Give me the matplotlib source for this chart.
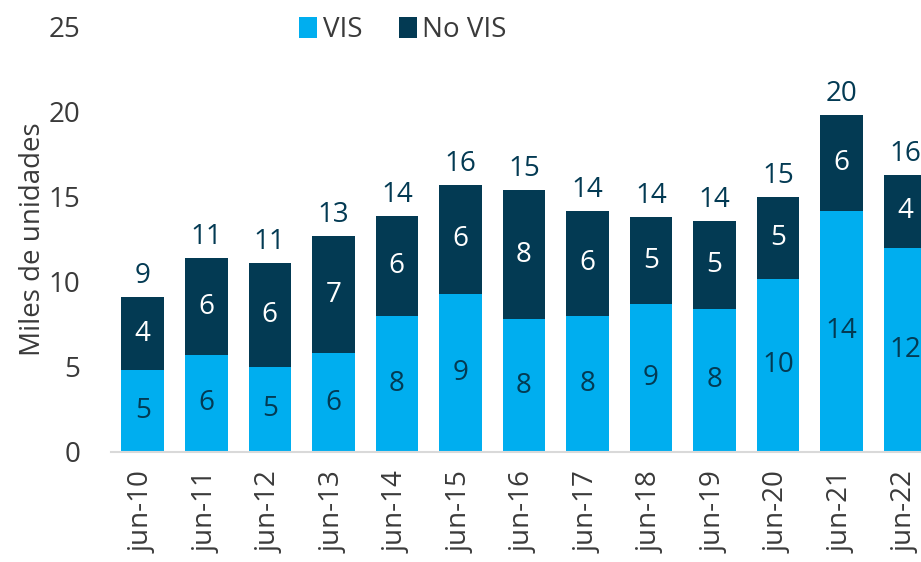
import numpy as np
import matplotlib
matplotlib.use("Agg")
import matplotlib.pyplot as plt

# Data (miles de unidades)
labels = ['jun-10', 'jun-11', 'jun-12', 'jun-13', 'jun-14', 'jun-15', 'jun-16',
          'jun-17', 'jun-18', 'jun-19', 'jun-20', 'jun-21', 'jun-22']
vis = [4.8, 5.7, 5.0, 5.8, 8.0, 9.3, 7.8, 8.0, 8.7, 8.4, 10.2, 14.2, 12.0]
no_vis = [4.3, 5.7, 6.1, 6.9, 5.9, 6.4, 7.6, 6.2, 5.1, 5.2, 4.8, 5.6, 4.3]

C_VIS = '#00AEEF'
C_NOVIS = '#033A53'
C_TEXT = '#3A3A3A'

plt.rcParams['font.family'] = ['Open Sans', 'DejaVu Sans']
FS = 20

fig = plt.figure(figsize=(9.21, 5.62), dpi=100)
ax = fig.add_axes([0.1205, 0.196, 0.8795, 0.756])

x = np.arange(len(labels))
vis = np.array(vis)
no_vis = np.array(no_vis)
total = vis + no_vis

b1 = ax.bar(x, vis, width=0.67, color=C_VIS, label='VIS')
b2 = ax.bar(x, no_vis, width=0.67, bottom=vis, color=C_NOVIS, label='No VIS')

# segment labels + totals
for xi, v, n, t in zip(x, vis, no_vis, total):
    ax.text(xi, v / 2, f'{v:.0f}', ha='center', va='center',
            fontsize=FS, color=C_NOVIS)
    ax.text(xi, v + n / 2, f'{n:.0f}', ha='center', va='center',
            fontsize=FS, color='white')
    ax.annotate(f'{t:.0f}', (xi, t), xytext=(0, 5), textcoords='offset points',
                ha='center', va='bottom', fontsize=FS, color=C_NOVIS)

ax.set_xlim(-0.5, 12.25)
ax.set_ylim(0, 25)
ax.set_yticks(range(0, 26, 5))
ax.set_xticks(x)
ax.set_xticklabels(labels, rotation=90)
ax.tick_params(axis='x', length=0, pad=14, labelsize=FS, labelcolor=C_TEXT)
ax.tick_params(axis='y', length=0, pad=22, labelsize=FS, labelcolor=C_TEXT)

for s in ['top', 'right', 'left']:
    ax.spines[s].set_visible(False)
ax.spines['bottom'].set_color('#D9D9D9')
ax.spines['bottom'].set_linewidth(1.5)

ax.set_ylabel('Miles de unidades', fontsize=FS, color=C_TEXT)
ax.yaxis.set_label_coords(-0.079, 0.5)

fig.legend(handles=[b1, b2], loc='center', bbox_to_anchor=(403 / 921, 1 - 30 / 562),
           ncol=2, frameon=False, fontsize=FS, handlelength=0.65, handleheight=0.8,
           handletextpad=0.2, columnspacing=1.3, labelcolor=C_TEXT)

fig.savefig('out.png', dpi=100)
